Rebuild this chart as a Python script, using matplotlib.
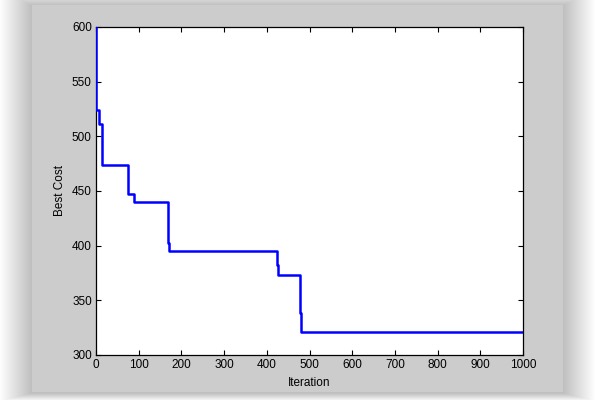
import matplotlib
matplotlib.use("Agg")
import matplotlib.pyplot as plt
import matplotlib.patches as patches

# step points of the best-cost curve (iteration where the value starts, value)
iters = [0, 1, 6, 13, 76, 89, 169, 172, 423, 426, 477, 480, 1000]
costs = [605, 524, 511, 474, 447, 440, 402, 395, 382, 373, 338, 321, 321]

x_ticks = list(range(0, 1001, 100))
y_ticks = list(range(300, 601, 50))

W, H = 595, 400
fig = plt.figure(figsize=(W / 100, H / 100), dpi=100, facecolor="white")

# soft drop shadow behind the grey panel
px_l, px_t, px_r, px_b = 32, 5, 563, 392
for k in range(32, 0, -1):
    r = patches.Rectangle(((px_l - k) / W, 1 - (px_b + k * 0.25 + 1) / H),
                          (px_r - px_l + 2 * k) / W,
                          (px_b - px_t + k * 0.8) / H,
                          transform=fig.transFigure, facecolor="black",
                          edgecolor="none", alpha=0.009, zorder=0)
    fig.patches.append(r)

# grey figure panel
panel = patches.Rectangle((px_l / W, 1 - px_b / H), (px_r - px_l) / W,
                          (px_b - px_t) / H, transform=fig.transFigure,
                          facecolor="#cccccc", edgecolor="none", zorder=1)
fig.patches.append(panel)

ax = fig.add_axes([96 / W, 1 - 355 / H, (523 - 96) / W, (355 - 27) / H])
ax.set_zorder(2)
ax.set_facecolor("white")

ax.step(iters, costs, where="post", color="#0000ff", linewidth=1.8, zorder=3)

ax.set_xlim(0, 1000)
ax.set_ylim(300, 600)
ax.set_xticks(x_ticks)
ax.set_yticks(y_ticks)

font = dict(family=["Liberation Sans", "DejaVu Sans"], size=8.5)
ax.set_xticklabels([str(t) for t in x_ticks], **font)
ax.set_yticklabels([str(t) for t in y_ticks], **font)
ax.set_xlabel("Iteration", labelpad=4, **font)
ax.set_ylabel("Best Cost", labelpad=4, **font)

ax.tick_params(direction="in", length=3.5, width=0.8, top=True, right=True,
               colors="black", pad=3)
for s in ax.spines.values():
    s.set_linewidth(0.9)
    s.set_color("black")

fig.savefig("out.png", dpi=100, facecolor=fig.get_facecolor())
